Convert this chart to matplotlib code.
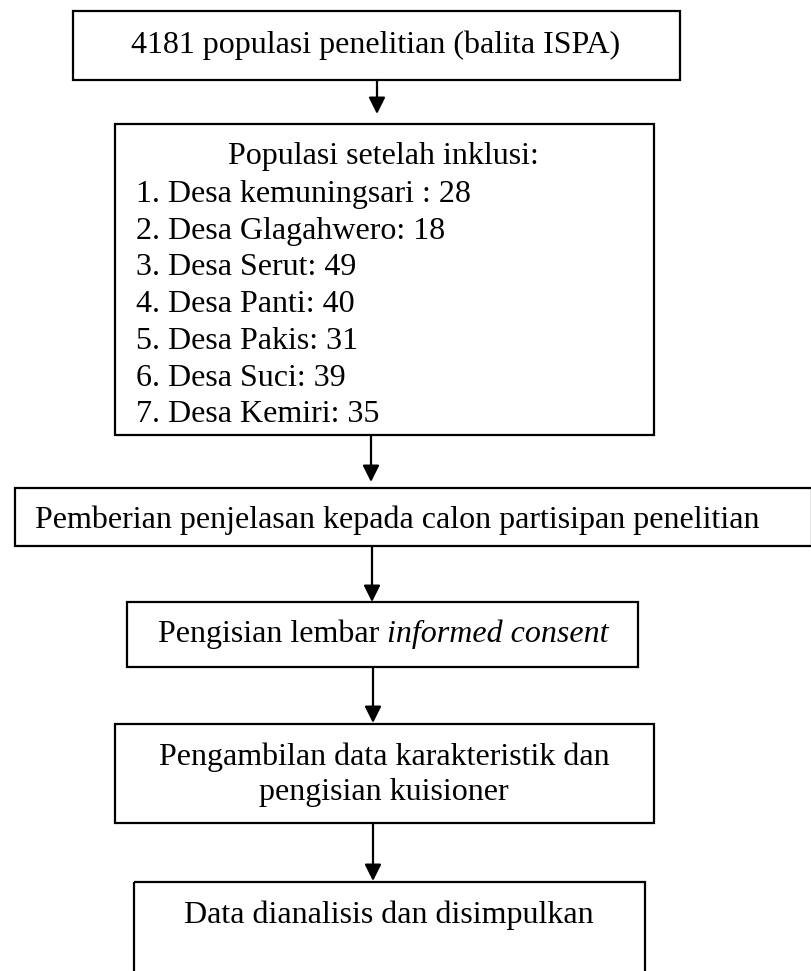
import matplotlib
matplotlib.use("Agg")
import matplotlib.pyplot as plt
from matplotlib.patches import Rectangle, FancyArrowPatch

# ---- content ----
title_text = "4181 populasi penelitian (balita ISPA)"
incl_title = "Populasi setelah inklusi:"
villages = ["Desa kemuningsari ", "Desa Glagahwero", "Desa Serut", "Desa Panti",
            "Desa Pakis", "Desa Suci", "Desa Kemiri"]
counts = [28, 18, 49, 40, 31, 39, 35]
step3_text = "Pemberian penjelasan kepada calon partisipan penelitian"
step4_plain = "Pengisian lembar "
step4_italic = "informed consent"
step5_lines = ["Pengambilan data karakteristik dan", "pengisian kuisioner"]
step6_text = "Data dianalisis dan disimpulkan"

W, H = 811, 971
fig = plt.figure(figsize=(W / 100, H / 100), dpi=100)
ax = fig.add_axes([0, 0, 1, 1])
ax.set_xlim(0, W)
ax.set_ylim(H, 0)
ax.axis("off")

FONT = "Liberation Serif"
FS = 23
LW = 1.6

def box(x0, y0, x1, y1):
    ax.add_patch(Rectangle((x0, y0), x1 - x0, y1 - y0, fill=False,
                           edgecolor="black", linewidth=LW, clip_on=True))

def arrow(x0, y0, x1, y1):
    ax.add_patch(FancyArrowPatch((x0, y0), (x1, y1),
                                 arrowstyle="-|>,head_length=1.0,head_width=0.5",
                                 mutation_scale=10, color="black", linewidth=LW,
                                 shrinkA=0, shrinkB=0))

def txt(x, y, s, ha="center", style="normal"):
    return ax.text(x, y, s, ha=ha, va="baseline", fontsize=FS, family=FONT, style=style)

# Box 1
box(73, 11, 680, 80)
txt(376, 53, title_text)
arrow(377, 80, 377, 114)

# Box 2
box(115, 124, 654, 435)
txt(383, 164, incl_title)
y0, dy = 202, 36.7
for i, (v, c) in enumerate(zip(villages, counts)):
    txt(136, y0 + i * dy, f"{i + 1}. {v}: {c}", ha="left")
arrow(371, 435, 371, 482)

# Box 3 (extends to right edge)
box(15, 488, 812, 546)
txt(397, 528, step3_text)
arrow(372, 546, 372, 602)

# Box 4 (mixed plain + italic)
box(127, 602, 638, 667)
t1 = txt(158, 642, step4_plain, ha="left")
fig.canvas.draw()
bb = t1.get_window_extent()
x_end = ax.transData.inverted().transform((bb.x1, bb.y0))[0]
txt(x_end, 642, step4_italic, ha="left", style="italic")
arrow(373, 667, 373, 723)

# Box 5
box(115, 724, 654, 823)
txt(384, 765, step5_lines[0])
txt(384, 800, step5_lines[1])
arrow(373, 823, 373, 881)

# Box 6 (open at bottom)
box(134, 882, 645, 1000)
txt(389, 923, step6_text)

fig.savefig("out.png", dpi=100)
